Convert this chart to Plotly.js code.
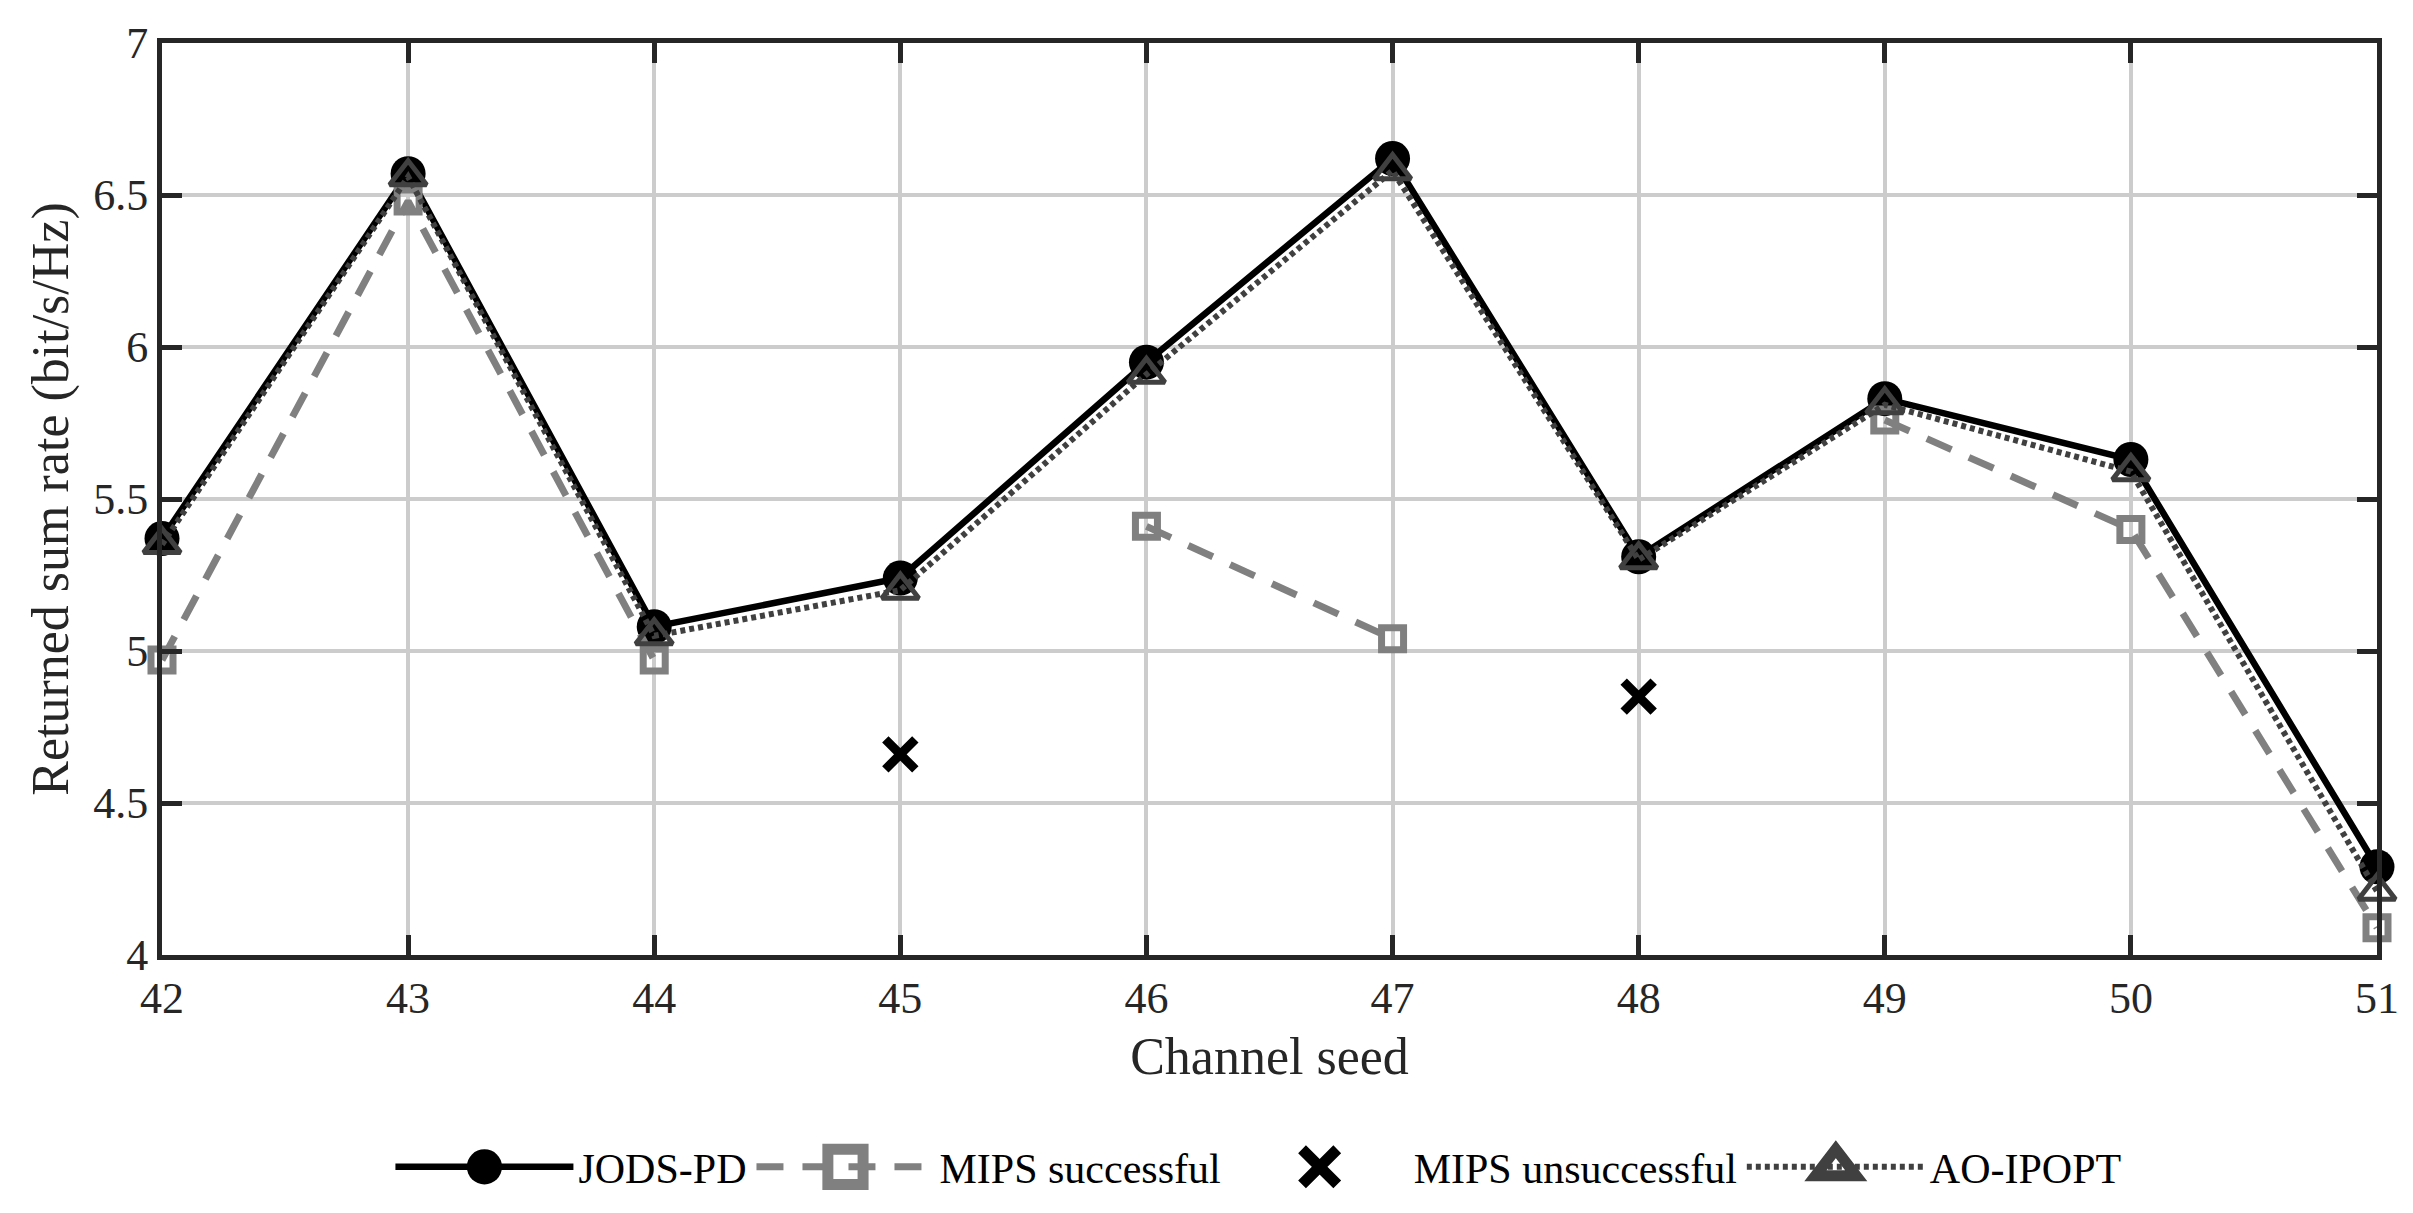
<!DOCTYPE html>
<html>
<head>
<meta charset="utf-8">
<script src="https://cdn.plot.ly/plotly-3.0.1.min.js"></script>
<style>html,body{margin:0;padding:0;background:#fff;}#chart{width:2413px;height:1213px;}</style>
</head>
<body>
<div id="chart"></div>
<script>
const seeds = [42, 43, 44, 45, 46, 47, 48, 49, 50, 51];
const jodsPD = [5.37, 6.57, 5.08, 5.24, 5.95, 6.62, 5.31, 5.83, 5.63, 4.29];
const mipsSuccessful = [4.97, 6.48, 4.97, null, 5.41, 5.04, null, 5.76, 5.40, 4.09];
const mipsUnsuccessful = [null, null, null, 4.66, null, null, 4.85, null, null, null];
const aoIPOPT = [5.35, 6.56, 5.05, 5.20, 5.91, 6.58, 5.30, 5.81, 5.59, 4.21];
const yTicks = [4, 4.5, 5, 5.5, 6, 6.5, 7];
const yTickText = ['4', '4.5', '5', '5.5', '6', '6.5', '7'];

const FONT = 'Liberation Serif, Times New Roman, serif';
const AXC = '#262626';

const traces = [
  {x: seeds, y: jodsPD, name: 'JODS-PD', mode: 'lines+markers', cliponaxis: false,
   line: {color: '#000000', width: 6.5},
   marker: {symbol: 'circle', size: 35, color: '#000000'}},
  {x: seeds, y: mipsSuccessful, name: 'MIPS successful', mode: 'lines+markers', cliponaxis: false,
   connectgaps: false,
   line: {color: '#808080', width: 7, dash: '27px,19px'},
   marker: {symbol: 'square-open', size: 22, color: '#808080', line: {color: '#808080', width: 7}}},
  {x: seeds, y: mipsUnsuccessful, name: 'MIPS unsuccessful', mode: 'markers', cliponaxis: false,
   marker: {symbol: 'x-thin-open', size: 30, color: '#000000', line: {color: '#000000', width: 9}}},
  {x: seeds, y: aoIPOPT, name: 'AO-IPOPT', mode: 'lines+markers', cliponaxis: false,
   line: {color: '#404040', width: 6, dash: '5px,4px'},
   marker: {symbol: 'triangle-up-open', size: 32, color: '#404040', line: {color: '#404040', width: 5}}}
];

const layout = {
  width: 2413, height: 1213,
  margin: {l: 162, r: 36, t: 43, b: 258},
  paper_bgcolor: '#ffffff', plot_bgcolor: '#ffffff',
  font: {family: FONT, size: 44, color: AXC},
  showlegend: true,
  legend: {orientation: 'h', x: 0.495, xanchor: 'center', y: -0.2325, yanchor: 'middle',
           font: {family: FONT, size: 42, color: '#000000'}, itemwidth: 178, traceorder: 'normal'},
  xaxis: {
    range: [42, 51], tickvals: seeds, ticktext: seeds.map(String),
    title: {text: 'Channel seed', font: {family: FONT, size: 52, color: AXC}, standoff: 17},
    showgrid: true, gridcolor: '#cccccc', gridwidth: 4,
    showline: true, linecolor: AXC, linewidth: 5, mirror: 'ticks',
    ticks: 'inside', ticklen: 20, tickwidth: 5, tickcolor: AXC,
    tickfont: {family: FONT, size: 44, color: AXC}, zeroline: false
  },
  yaxis: {
    range: [4, 7], tickvals: yTicks, ticktext: yTickText,
    title: {text: 'Returned sum rate (bit/s/Hz)', font: {family: FONT, size: 52, color: AXC}, standoff: 10},
    showgrid: true, gridcolor: '#cccccc', gridwidth: 4,
    showline: true, linecolor: AXC, linewidth: 5, mirror: 'ticks',
    ticks: 'inside', ticklen: 20, tickwidth: 5, tickcolor: AXC,
    tickfont: {family: FONT, size: 44, color: AXC}, zeroline: false
  }
};

Plotly.newPlot('chart', traces, layout, {displayModeBar: false, staticPlot: true}).then(function (gd) {
  // enlarge legend symbols (Plotly caps legend marker size at 16px)
  gd.querySelectorAll('.legend path.scatterpts').forEach(function (p) {
    const t = p.getAttribute('transform') || '';
    p.setAttribute('transform', t + ' scale(2.2)');
  });
});
</script>
</body>
</html>
